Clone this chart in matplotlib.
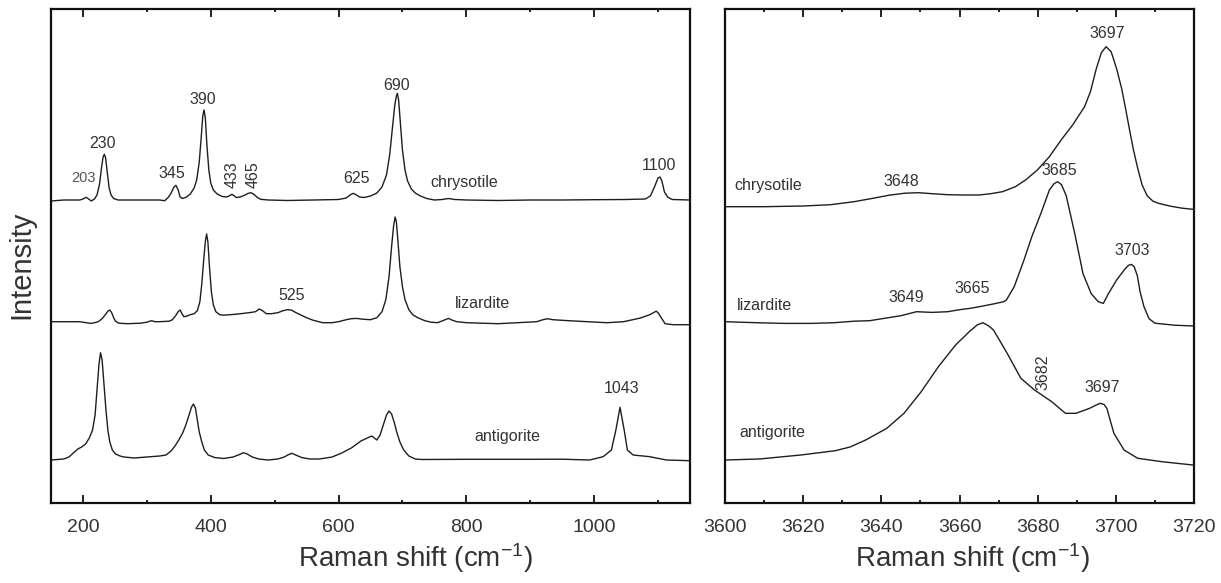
import matplotlib
matplotlib.use('Agg')
import matplotlib.pyplot as plt
from matplotlib.ticker import MultipleLocator

plt.rcParams['font.family'] = ['Liberation Sans', 'DejaVu Sans']
plt.rcParams['mathtext.default'] = 'regular'

# --- low wavenumber region (150-1150 cm-1), intensity above each baseline ---
chry_lo_x = [150, 170, 195, 200, 205, 209, 213, 218, 222, 226, 229, 231.5, 233.5, 235.5, 238, 241, 244, 248,
             255, 300, 320, 328, 334, 338, 342, 345.5, 349, 352, 356, 362, 368, 374, 378, 382, 385, 387.5,
             389.5, 391.5, 394, 397, 400, 404, 410, 418, 425, 430, 433, 436, 440, 446, 452, 458, 463, 468,
             473, 478, 490, 520, 560, 600, 612, 618, 623, 628, 633, 640, 650, 660, 668, 675, 680, 684, 688,
             690.5, 692, 694, 697, 700, 704, 708, 714, 720, 728, 738, 750, 762, 772, 782, 800, 850, 900, 950,
             1000, 1050, 1080, 1088, 1095, 1100, 1103, 1106, 1110, 1115, 1122, 1150]
chry_lo_y = [-1, 0, 0, 1, 2.7, 1, -1, 1, 5, 16, 32, 43, 45.7, 42, 28, 12, 5, 1.5,
             0, 0, 0, -0.7, 3, 7, 12.5, 14.7, 10, 3, 1.5, 3, 6, 12, 20, 38, 62, 84,
             90, 82, 55, 30, 17, 10, 6, 3.5, 3, 4.5, 5.7, 4.5, 2.5, 3, 4.5, 6.5, 7.3, 5.5,
             2.5, 0.7, 0, -0.5, 0, 0.5, 2, 5, 6.7, 5, 3, 2.5, 4, 7, 13, 25, 45, 70, 95,
             104, 106.7, 100, 75, 50, 30, 19, 11, 7, 4, 1.5, 0, 0.5, 1.5, 0.5, 0, -0.5, 0, 0,
             0.3, 0.5, 1, 4, 14, 22, 23, 19, 8, 3, 0.5, 0]

liz_lo_x = [150, 195, 205, 212, 218, 224, 230, 235, 239, 242, 245, 248, 251, 256, 270, 290, 300, 307, 313,
            320, 335, 340, 345, 349, 352, 355, 358, 362, 368, 374, 379, 383, 386, 389, 391.5, 393.5, 395.5,
            398, 401, 404, 408, 414, 420, 440, 460, 470, 476, 481, 487, 495, 505, 513, 520, 526, 532, 540,
            550, 560, 575, 590, 600, 612, 620, 628, 638, 650, 660, 668, 674, 679, 683, 686, 688.5, 690.5,
            693, 696, 700, 704, 710, 716, 724, 735, 745, 755, 765, 772, 778, 785, 800, 850, 880, 910, 920,
            927, 935, 960, 1020, 1046, 1072, 1087, 1097, 1100, 1106, 1111, 1124, 1150]
liz_lo_y = [0, 0, -1, -1.7, -1, 0, 3, 7, 10.5, 11.7, 9, 4, 0.5, -1.5, -2, -1.5, -0.5, 1, 0,
            0, 0.5, 2, 6, 10, 11.7, 8, 5, 5.5, 7, 8, 11, 20, 38, 62, 80, 87.7, 80,
            55, 30, 17, 10, 7, 6.5, 7.5, 9, 10, 12.7, 11, 8, 8, 9, 11, 12, 11.7, 9.5, 7,
            4, 1.5, -1, -1, 0, 2, 3, 3.3, 2.5, 2, 4, 10, 22, 45, 75, 95, 104.7, 100,
            80, 55, 35, 22, 12, 7, 4, 1, -0.5, -1, 1.5, 3.3, 1.5, 0, -1, -2, -1, 0, 2,
            3, 2, 1, -1, 0, 3.6, 7, 10.5, 9, 3, -2, -3, -3]

ant_lo_x = [150, 160, 170, 178, 185, 192, 198, 204, 210, 215, 219, 222, 225, 227.5, 230, 233, 236, 239, 242,
            246, 251, 258, 264, 280, 300, 320, 330, 338, 344, 350, 356, 361, 366, 370, 373, 376, 379, 382,
            386, 390, 396, 406, 420, 435, 445, 451, 457, 465, 475, 490, 505, 515, 522, 527, 533, 542, 555,
            570, 590, 605, 620, 635, 645, 652, 660, 665, 670, 675, 679, 683, 687, 691, 696, 702, 710, 720,
            730, 800, 900, 950, 993, 1014, 1027, 1034, 1040.5, 1047, 1052, 1061, 1087, 1113, 1150]
ant_lo_y = [0, 0.5, 1, 3, 7, 11, 13, 16, 22, 30, 45, 70, 95, 107.3, 100, 75, 50, 30, 18,
            10, 6, 4, 3, 2, 3, 4, 5, 9, 14, 20, 27, 35, 45, 53, 56, 52, 40, 28,
            18, 10, 5, 2.5, 1.5, 3, 5.5, 7.3, 6, 3, 1, 0, 1, 3, 5.5, 6.7, 5, 2.5, 1,
            1, 3, 7, 12, 19, 22, 24, 20, 25, 35, 45, 49, 46, 38, 28, 18, 10, 4, 1,
            0.5, 0.7, 0.7, 0.8, 0, 3.3, 10, 30, 52.7, 30, 10, 5, 3.3, 0, -0.7]

# --- OH stretching region (3600-3720 cm-1) ---
chry_hi_x = [3600, 3610, 3620, 3627, 3633, 3638, 3642, 3646, 3649.5, 3653, 3657, 3661, 3665, 3668, 3671,
             3674.3, 3677, 3680, 3683, 3686, 3689, 3692, 3693.5, 3695, 3696.3, 3697.5, 3698.8, 3700.2,
             3701.5, 3702.5, 3703.5, 3704.5, 3705.5, 3706.7, 3708, 3709.5, 3711, 3714, 3717, 3720]
chry_hi_y = [0, 0, 0.7, 2, 5, 8.5, 11.5, 13.5, 14, 13, 12, 11.7, 11.7, 13, 15,
             20, 27, 37, 50, 66.7, 82, 100, 115, 138, 154, 160, 155, 138,
             118, 98, 77, 57, 40, 22, 11, 5.5, 3.3, 0.5, -1.5, -2.7]

liz_hi_x = [3600, 3608, 3615, 3622, 3628, 3633, 3637, 3641, 3645, 3649, 3653, 3657, 3660, 3663, 3666, 3669,
            3671.3, 3672, 3674, 3676.5, 3678.5, 3680.8, 3683, 3684.2, 3685.1, 3686.1, 3687.3, 3689.5, 3691.6,
            3693.7, 3695.5, 3696.8, 3698.1, 3700.2, 3702.4, 3703.3, 3704, 3704.7, 3705.5, 3706.2, 3707.2,
            3708.5, 3710, 3715, 3720]
liz_hi_y = [0, -1, -1.7, -1.7, -1, 0.5, 1, 3.5, 6, 10, 9.3, 10, 12, 13.5, 15.7, 18,
            20, 21.7, 35, 61.7, 85, 108, 131.7, 138, 140, 137, 126, 88, 48,
            28, 20, 18.3, 28, 41.7, 53, 56.5, 57.3, 55, 46, 30, 15,
            3, -1.5, -3.5, -4.3]

ant_hi_x = [3600, 3608.8, 3619.4, 3628.2, 3632, 3636, 3641.4, 3645.8, 3650.2, 3654.6, 3659, 3662.5, 3664.5,
            3666, 3667.5, 3668.7, 3672.2, 3675.7, 3679.2, 3683.6, 3687.1, 3689.8, 3693.3, 3695, 3696, 3697,
            3697.7, 3699.5, 3702.1, 3705.6, 3711.8, 3719.7]
ant_hi_y = [0, 1, 5, 9.3, 13, 20, 31.7, 46.7, 68.3, 93.3, 115, 128.3, 135,
            137.3, 134, 130, 106.7, 81.7, 70, 58.3, 46.7, 46.7, 51.7, 55, 56.7, 55.5,
            51.7, 26.7, 10, 1.7, -1.7, -5]

# vertical offsets of the stacked spectra
offsets_lo = {'chrysotile': 303, 'lizardite': 181.3, 'antigorite': 43}
offsets_hi = {'chrysotile': 296.3, 'lizardite': 181.3, 'antigorite': 43}

line_col = '#1e1e1e'
txt_col = '#333333'

fig = plt.figure(figsize=(12.21, 5.83), dpi=100)
ax1 = fig.add_axes([51 / 1221, 80 / 583, 639 / 1221, 494 / 583])
ax2 = fig.add_axes([725 / 1221, 80 / 583, 469 / 1221, 494 / 583])

ax1.plot(chry_lo_x, [v + offsets_lo['chrysotile'] for v in chry_lo_y], color=line_col, lw=1.0)
ax1.plot(liz_lo_x, [v + offsets_lo['lizardite'] for v in liz_lo_y], color=line_col, lw=1.0)
ax1.plot(ant_lo_x, [v + offsets_lo['antigorite'] for v in ant_lo_y], color=line_col, lw=1.0)

ax2.plot(chry_hi_x, [v + offsets_hi['chrysotile'] for v in chry_hi_y], color=line_col, lw=1.0)
ax2.plot(liz_hi_x, [v + offsets_hi['lizardite'] for v in liz_hi_y], color=line_col, lw=1.0)
ax2.plot(ant_hi_x, [v + offsets_hi['antigorite'] for v in ant_hi_y], color=line_col, lw=1.0)

ax1.set_xlim(150, 1150)
ax2.set_xlim(3600, 3720)
for ax in (ax1, ax2):
    ax.set_ylim(0, 494)
    ax.set_yticks([])
    for s in ax.spines.values():
        s.set_linewidth(1.6)
        s.set_color('#111111')
    ax.tick_params(axis='x', which='both', direction='in', top=True, bottom=True,
                   labelsize=14, pad=11.5, colors='#111111', labelcolor=txt_col)
    ax.tick_params(axis='x', which='major', length=6, width=1.3)
    ax.tick_params(axis='x', which='minor', length=2.5, width=1.3)
    ax.set_xlabel('Raman shift (cm$^{-1}$)', fontsize=20, color=txt_col)

ax1.xaxis.set_major_locator(MultipleLocator(200))
ax1.xaxis.set_minor_locator(MultipleLocator(100))
ax2.xaxis.set_major_locator(MultipleLocator(20))
ax2.xaxis.set_minor_locator(MultipleLocator(10))

ax1.xaxis.set_label_coords(0.57, -0.077)
ax2.xaxis.set_label_coords(0.527, -0.077)
ax1.set_ylabel('Intensity', fontsize=21, color=txt_col)
ax1.yaxis.set_label_coords(-0.024, 0.482)

fs = 11.5
kw = dict(ha='center', va='center', fontsize=fs, color=txt_col)
# peak labels, low region
ax1.text(200.6, 324.7, '203', ha='center', va='center', fontsize=10.5, color='#555555')
ax1.text(231, 359.7, '230', **kw)
ax1.text(339, 329.7, '345', **kw)
ax1.text(387, 403.7, '390', **kw)
ax1.text(434, 328, '433', rotation=90, **kw)
ax1.text(465.7, 328, '465', rotation=90, **kw)
ax1.text(628.4, 324.7, '625', **kw)
ax1.text(691, 418, '690', **kw)
ax1.text(1102, 337.3, '1100', **kw)
ax1.text(797, 321, 'chrysotile', **kw)
ax1.text(527, 208, '525', **kw)
ax1.text(825, 200, 'lizardite', **kw)
ax1.text(864, 66, 'antigorite', **kw)
ax1.text(1043, 114.7, '1043', **kw)

# peak labels, OH region
ax2.text(3611, 317.3, 'chrysotile', **kw)
ax2.text(3645, 321, '3648', **kw)
ax2.text(3685.6, 332.3, '3685', **kw)
ax2.text(3697.7, 469, '3697', **kw)
ax2.text(3704.3, 252.3, '3703', **kw)
ax2.text(3663.2, 214.5, '3665', **kw)
ax2.text(3646.4, 205, '3649', **kw)
ax2.text(3610, 198, 'lizardite', **kw)
ax2.text(3681.4, 131, '3682', rotation=90, **kw)
ax2.text(3696.4, 116, '3697', **kw)
ax2.text(3612, 71, 'antigorite', **kw)

fig.savefig('out.png', dpi=100)
